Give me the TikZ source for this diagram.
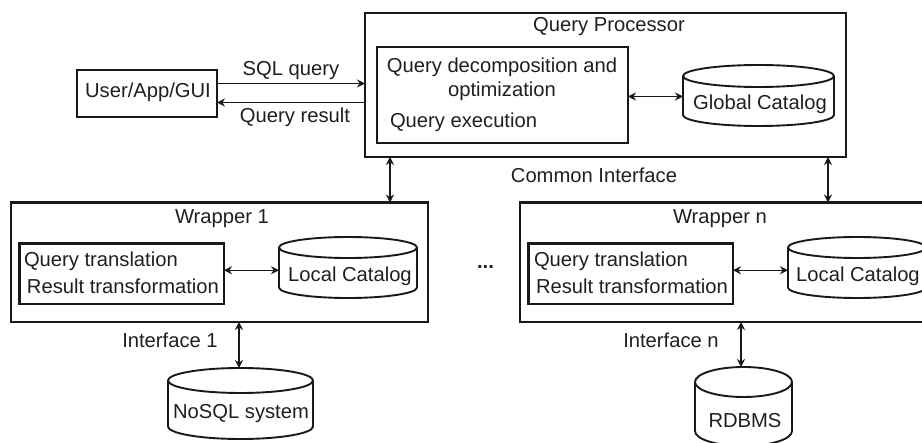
\documentclass[tikz,border=0pt]{standalone}
\usepackage{fontspec}
\setmainfont{Liberation Sans}
\usetikzlibrary{arrows.meta}
\tikzset{
  box/.style={draw=black!90,line width=2.2pt,inner sep=0pt,outer sep=0pt,rectangle},
  cylline/.style={draw=black!90,line width=1.9pt},
  holder/.style={inner sep=0pt,outer sep=0pt,rectangle},
  txt/.style={inner sep=0pt,outer sep=0pt,anchor=base,yshift=-1pt,text=black!88,font=\fontsize{20.2}{24}\selectfont},
  ltxt/.style={txt,anchor=base west},
  arr/.style={line width=1.3pt,draw=black!90,-{Stealth[length=8pt,width=8pt]}},
  arrb/.style={line width=1.3pt,draw=black!90,{Stealth[length=8pt,width=8pt]}-{Stealth[length=8pt,width=8pt]}},
}
% name, x1, y1, x2, y2
\newcommand{\bxnode}[5]{%
  \pgfmathsetmacro{\bw}{#4-#2}\pgfmathsetmacro{\bh}{#5-#3}%
  \pgfmathsetmacro{\bcx}{(#2+#4)/2}\pgfmathsetmacro{\bcy}{(#3+#5)/2}%
  \node[box,minimum width=\bw pt,minimum height=\bh pt] (#1) at (\bcx,\bcy) {};}
% name, x1, y1, x2, y2, ry, text x, text baseline, text
\newcommand{\dbnode}[9]{%
  \pgfmathsetmacro{\bw}{#4-#2}\pgfmathsetmacro{\bh}{#5-#3}%
  \pgfmathsetmacro{\bcx}{(#2+#4)/2}\pgfmathsetmacro{\bcy}{(#3+#5)/2}%
  \pgfmathsetmacro{\brx}{(#4-#2)/2}%
  \node[holder,minimum width=\bw pt,minimum height=\bh pt] (#1) at (\bcx,\bcy) {};
  \draw[cylline] ([yshift=-#6pt]#1.north west) arc[start angle=180,end angle=0,x radius=\brx pt,y radius=#6pt]
    -- ([yshift=#6pt]#1.south east) arc[start angle=360,end angle=180,x radius=\brx pt,y radius=#6pt] -- cycle;
  \draw[cylline] ([yshift=-#6pt]#1.north west) arc[start angle=180,end angle=360,x radius=\brx pt,y radius=#6pt];
  \node[txt] (#1-label) at (#7,#8) {#9};}
\begin{document}
\begin{tikzpicture}[x=1pt,y=-1pt]
\useasboundingbox (0,0) rectangle (922,443);
\clip (0,0) rectangle (922,443);
\bxnode{qp}{365}{13}{846}{157}
\bxnode{qd}{377}{47}{628}{143}
\bxnode{user}{77}{70}{217}{117}
\bxnode{w1}{11}{202.5}{428}{322}
\bxnode{t1}{19.5}{243.5}{224}{304}
\bxnode{wn}{520}{202.5}{950}{322}
\bxnode{tn}{528.5}{243.5}{733}{304}
\dbnode{gc}{683}{65}{834}{126}{11}{760}{109}{Global Catalog}
\dbnode{lc1}{279}{237}{417}{298}{10.5}{350}{281}{Local Catalog}
\dbnode{lcn}{788}{237}{926}{298}{10.5}{858}{281}{Local Catalog}
\dbnode{nosql}{168}{368}{313}{439}{12.5}{241}{418}{NoSQL system}
\dbnode{rdbms}{695}{367}{792}{446}{15}{745}{427}{RDBMS}

\node[txt] (qptitle) at (609,31) {Query Processor};
\node[txt] (qd1) at (502,72) {Query decomposition and};
\node[txt] (qd2) at (502,96) {optimization};
\node[ltxt] (qd3) at (390,127) {Query execution};
\node[txt] (usertxt) at (148,97) {User/App/GUI};
\node[txt] (sql) at (291,75) {SQL query};
\node[txt] (res) at (295,122) {Query result};
\node[txt] (common) at (594,182) {Common Interface};
\node[txt] (w1title) at (222,223) {Wrapper 1};
\node[ltxt] (t1a) at (24,266) {Query translation};
\node[ltxt] (t1b) at (27,293) {Result transformation};
\node[txt] (if1) at (170,347) {Interface 1};
\node[txt,font=\fontsize{20.2}{24}\selectfont\bfseries] (dots) at (485.5,268) {...};
\node[txt] (wntitle) at (720,223) {Wrapper n};
\node[ltxt] (tna) at (534,266) {Query translation};
\node[ltxt] (tnb) at (536,293) {Result transformation};
\node[txt] (ifn) at (671,347) {Interface n};

\draw[arr] ([yshift=10pt]user.east) -- ([yshift=10pt]user.east -| qp.west);
\draw[arr] ([yshift=-9pt]user.east -| qp.west) -- ([yshift=-9pt]user.east);
\draw[arrb] ([yshift=-1.5pt]qd.east) -- ([yshift=-1.5pt]qd.east -| gc.west);
\coordinate (a1) at (390,0);
\coordinate (an) at (828,0);
\coordinate (b1) at (239,0);
\coordinate (bn) at (741,0);
\draw[arrb] (a1 |- qp.south) -- (a1 |- w1.north);
\draw[arrb] (an |- qp.south) -- (an |- wn.north);
\draw[arrb] ([yshift=3.5pt]t1.east) -- ([yshift=3.5pt]t1.east -| lc1.west);
\draw[arrb] ([yshift=3.5pt]tn.east) -- ([yshift=3.5pt]tn.east -| lcn.west);
\draw[arrb] (b1 |- w1.south) -- (b1 |- nosql.north);
\draw[arrb] (bn |- wn.south) -- (bn |- rdbms.north);
\end{tikzpicture}
\end{document}
